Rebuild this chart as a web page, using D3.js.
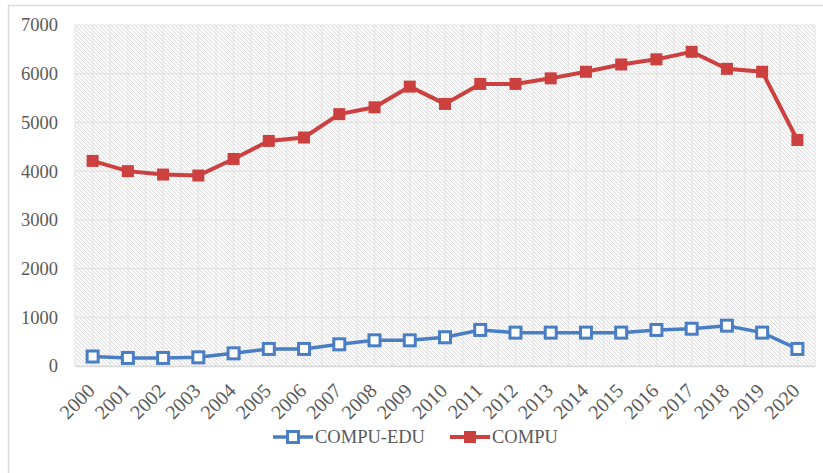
<!DOCTYPE html>
<html>
<head>
<meta charset="utf-8">
<script src="https://cdn.jsdelivr.net/npm/d3@7"></script>
<style>
  body { margin: 0; background: #fff; }
  text { font-family: "Liberation Serif", "Times New Roman", serif; fill: #595959; }
</style>
</head>
<body>
<div id="chart"></div>
<script>
// Data
var years = ["2000","2001","2002","2003","2004","2005","2006","2007","2008","2009","2010",
             "2011","2012","2013","2014","2015","2016","2017","2018","2019","2020"];
var compuEdu = [195, 165, 165, 178, 260, 350, 350, 445, 527, 527, 590,
                740, 685, 685, 685, 685, 740, 765, 828, 685, 350];
var compu = [4210, 4000, 3930, 3910, 4250, 4620, 4690, 5170, 5310, 5735, 5380,
             5790, 5790, 5905, 6040, 6190, 6295, 6450, 6100, 6040, 4640];
var yTicks = [0, 1000, 2000, 3000, 4000, 5000, 6000, 7000];

var W = 823, H = 473;
var margin = {top: 25, right: 8, bottom: 107, left: 75};
var width = W - margin.left - margin.right,
    height = H - margin.top - margin.bottom;

var svg = d3.select("#chart").append("svg")
    .attr("width", W)
    .attr("height", H);

// outer frame
svg.append("rect")
    .attr("x", 8.5).attr("y", 5.5)
    .attr("width", W + 10).attr("height", H + 10)
    .attr("fill", "none")
    .attr("stroke", "#dcdcdc")
    .attr("stroke-width", 1.5);

// hatch pattern for the plot area
var defs = svg.append("defs");
var pat = defs.append("pattern")
    .attr("id", "hatch")
    .attr("patternUnits", "userSpaceOnUse")
    .attr("width", 4).attr("height", 4);
pat.append("rect").attr("width", 4).attr("height", 4).attr("fill", "#fafafa");
pat.append("path")
    .attr("d", "M-1,-1 L5,5 M-1,3 L1,5 M3,-1 L5,1")
    .attr("stroke", "#d9d9d9")
    .attr("stroke-width", 0.9);

var g = svg.append("g")
    .attr("transform", "translate(" + margin.left + "," + margin.top + ")");

var x = d3.scaleBand().domain(years).range([0, width]);
var y = d3.scaleLinear().domain([0, 7000]).range([height, 0]);

g.append("rect")
    .attr("width", width).attr("height", height)
    .attr("fill", "url(#hatch)");

// vertical lines at band edges and centres
var vx = [];
years.forEach(function(d) { vx.push(x(d)); vx.push(x(d) + x.bandwidth() / 2); });
vx.push(width);
g.append("g").selectAll("line.v")
    .data(vx)
    .enter().append("line")
    .attr("x1", d => d).attr("x2", d => d)
    .attr("y1", 0).attr("y2", height)
    .attr("stroke", "#e6e6e6")
    .attr("stroke-width", 1.2);

// horizontal grid
g.append("g").selectAll("line.h")
    .data(yTicks)
    .enter().append("line")
    .attr("x1", 0).attr("x2", width)
    .attr("y1", d => y(d)).attr("y2", d => y(d))
    .attr("stroke", "#e3e3e3")
    .attr("stroke-width", 1.2);

// Y axis
var yAxis = g.append("g")
    .call(d3.axisLeft(y).tickValues(yTicks).tickFormat(d3.format("d")).tickSize(0).tickPadding(17));
yAxis.select(".domain").remove();
yAxis.selectAll("text").style("font-size", "18.5px");

// X axis
var xAxis = g.append("g")
    .attr("transform", "translate(0," + height + ")")
    .call(d3.axisBottom(x).tickSize(0).tickPadding(0));
xAxis.select(".domain").attr("stroke", "#d9d9d9").attr("stroke-width", 1.5);
xAxis.selectAll("text")
    .style("font-size", "20px")
    .attr("text-anchor", "end")
    .attr("dy", "0")
    .attr("transform", "translate(3.5,26) rotate(-45)");

var line = d3.line()
    .x((d, i) => x(years[i]) + x.bandwidth() / 2)
    .y(d => y(d));

var blue = "#4a7ec4", red = "#cc4040";

// COMPU series
g.append("path")
    .datum(compu)
    .attr("fill", "none")
    .attr("stroke", red)
    .attr("stroke-width", 4)
    .attr("d", line);
g.append("g").selectAll("rect")
    .data(compu)
    .enter().append("rect")
    .attr("x", (d, i) => x(years[i]) + x.bandwidth() / 2 - 6)
    .attr("y", d => y(d) - 6)
    .attr("width", 12).attr("height", 12)
    .attr("fill", red);

// COMPU-EDU series
g.append("path")
    .datum(compuEdu)
    .attr("fill", "none")
    .attr("stroke", blue)
    .attr("stroke-width", 3.5)
    .attr("d", line);
g.append("g").selectAll("rect")
    .data(compuEdu)
    .enter().append("rect")
    .attr("x", (d, i) => x(years[i]) + x.bandwidth() / 2 - 5.5)
    .attr("y", d => y(d) - 5.5)
    .attr("width", 11).attr("height", 11)
    .attr("fill", "#fff")
    .attr("stroke", blue)
    .attr("stroke-width", 3);

// legend
var legend = svg.append("g").attr("transform", "translate(0,437)");
var items = [
    {name: "COMPU-EDU", color: blue, x0: 273, hollow: true},
    {name: "COMPU", color: red, x0: 450, hollow: false}
];
items.forEach(function(it) {
    legend.append("line")
        .attr("x1", it.x0).attr("x2", it.x0 + 40)
        .attr("stroke", it.color)
        .attr("stroke-width", it.hollow ? 3.5 : 4);
    if (it.hollow) {
        legend.append("rect")
            .attr("x", it.x0 + 20 - 5.5).attr("y", -5.5)
            .attr("width", 11).attr("height", 11)
            .attr("fill", "#fff").attr("stroke", it.color).attr("stroke-width", 3);
    } else {
        legend.append("rect")
            .attr("x", it.x0 + 20 - 6).attr("y", -6)
            .attr("width", 12).attr("height", 12)
            .attr("fill", it.color);
    }
    legend.append("text")
        .attr("x", it.x0 + 42)
        .attr("dy", "0.35em")
        .style("font-size", "18.5px")
        .text(it.name);
});
</script>
</body>
</html>
